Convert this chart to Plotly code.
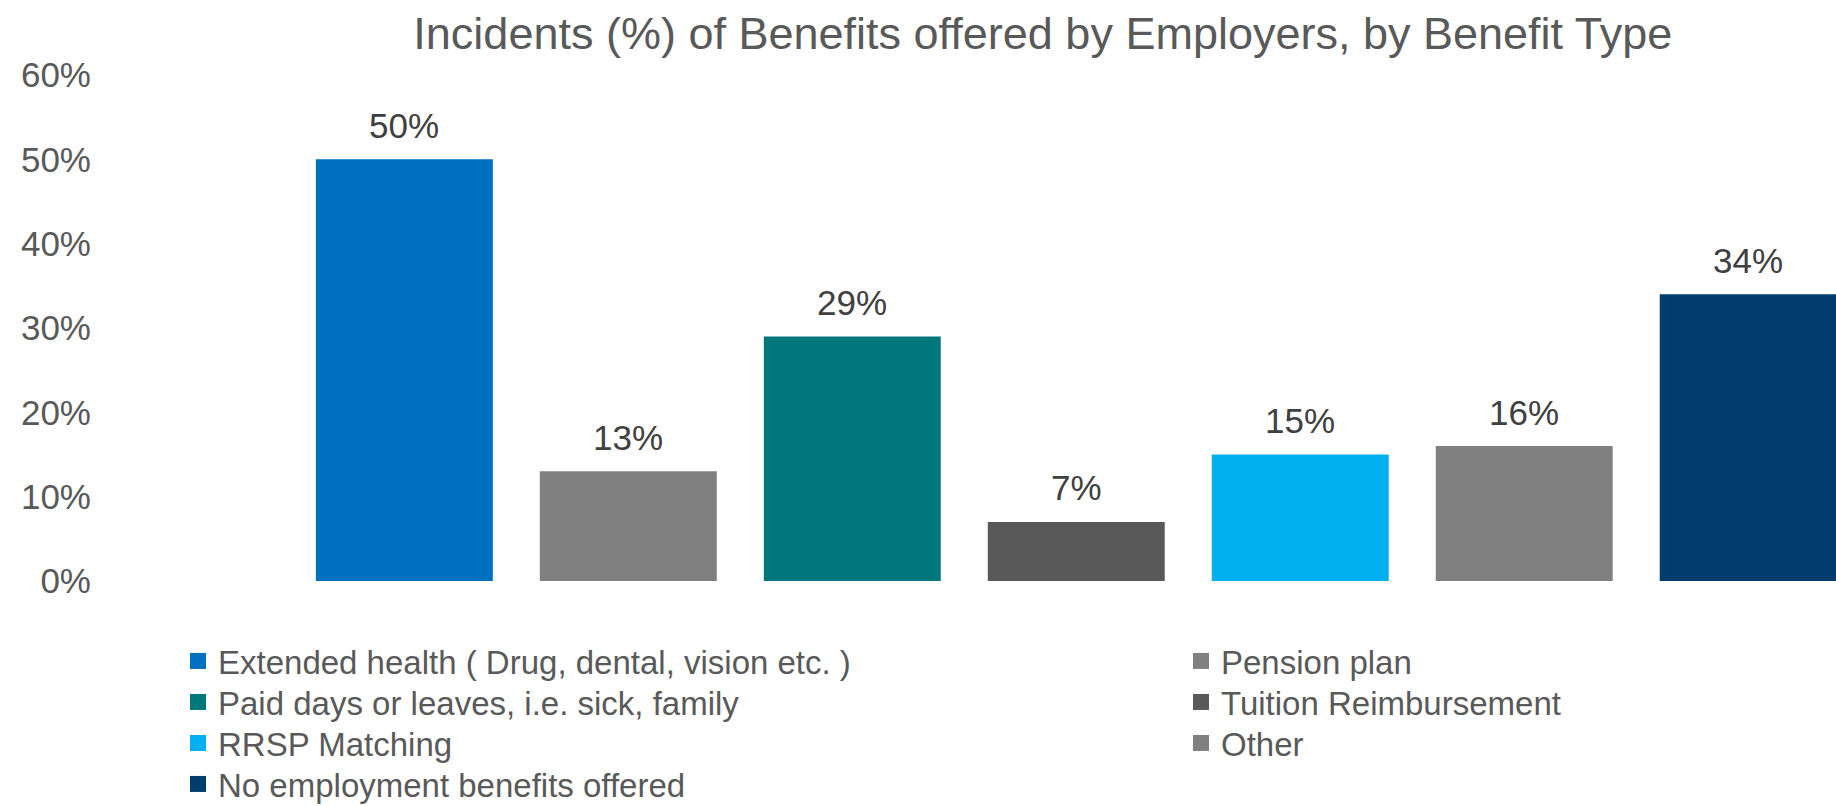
import plotly.graph_objects as go

# Benefit categories, share of employers offering each, and bar colours
categories = [
    "Extended health ( Drug, dental, vision etc. )",
    "Pension plan",
    "Paid days or leaves, i.e. sick, family",
    "Tuition Reimbursement",
    "RRSP Matching",
    "Other",
    "No employment benefits offered",
]
shares = [0.50, 0.13, 0.29, 0.07, 0.15, 0.16, 0.34]
colors = ["#0070C0", "#808080", "#00777B", "#595959", "#00B0F0", "#808080", "#003D6E"]

# Legend grid slot (column, row) for each category
legend_slots = [(0, 0), (1, 0), (0, 1), (1, 1), (0, 2), (1, 2), (0, 3)]

y_ticks = [0, 0.1, 0.2, 0.3, 0.4, 0.5, 0.6]

FONT = "Liberation Sans, Arial, Helvetica, sans-serif"
TEXT_GREY = "#595959"
LABEL_GREY = "#404040"

W, H = 1836, 806
LEGEND_COL_X = [178, 1181]          # left edge of each legend column, px
LEGEND_ROW_Y = [663, 704, 745, 786]  # row centres, px from top
LEGEND_FONT = 33

fig = go.Figure()

# One bar trace holds all the columns
fig.add_trace(go.Bar(
    x=categories,
    y=shares,
    marker=dict(color=colors, line=dict(width=0)),
    showlegend=False,
    hoverinfo="x+y",
))

# Square swatches, one legend box per entry so the two-column grid is exact
legend_layouts = {}
for i, (cat, col) in enumerate(zip(categories, colors)):
    name = "legend" if i == 0 else f"legend{i + 1}"
    fig.add_trace(go.Scatter(
        x=[None], y=[None],
        mode="markers",
        marker=dict(symbol="square", size=16, color=col),
        name=cat,
        legend=name,
        showlegend=True,
        hoverinfo="skip",
    ))
    c, r = legend_slots[i]
    legend_layouts[name] = dict(
        orientation="v",
        xref="container", yref="container",
        xanchor="left", yanchor="top",
        x=LEGEND_COL_X[c] / W,
        y=1 - (LEGEND_ROW_Y[r] - 30) / H,
        bgcolor="rgba(0,0,0,0)",
        borderwidth=0,
        font=dict(family=FONT, size=LEGEND_FONT, color=TEXT_GREY),
        itemclick=False, itemdoubleclick=False,
    )

# Value labels above each bar
for cat, v in zip(categories, shares):
    fig.add_annotation(
        x=cat, y=v, xref="x", yref="y",
        text=f"{v:.0%}",
        showarrow=False,
        yanchor="middle",
        yshift=34,
        font=dict(family=FONT, size=35, color=LABEL_GREY),
    )

fig.update_layout(
    width=W,
    height=H,
    paper_bgcolor="white",
    plot_bgcolor="white",
    margin=dict(l=92, r=0, t=75, b=225, autoexpand=False),
    bargap=0.21,
    title=dict(
        text="Incidents (%) of Benefits offered by Employers, by Benefit Type",
        xref="container", yref="container",
        x=0.568, y=0.959,
        xanchor="center", yanchor="middle",
        font=dict(family=FONT, size=45, color=TEXT_GREY),
    ),
    xaxis=dict(
        type="category",
        categoryorder="array",
        categoryarray=categories,
        range=[-1.3945, 6.392],
        showticklabels=False,
        showgrid=False,
        zeroline=False,
        showline=False,
        ticks="",
        fixedrange=True,
    ),
    yaxis=dict(
        range=[0, 0.6],
        tickvals=y_ticks,
        tickformat=".0%",
        showgrid=False,
        zeroline=False,
        showline=False,
        ticks="",
        tickfont=dict(family=FONT, size=35, color=TEXT_GREY),
        fixedrange=True,
    ),
    showlegend=True,
    **legend_layouts,
)

fig.write_html("out.html")
